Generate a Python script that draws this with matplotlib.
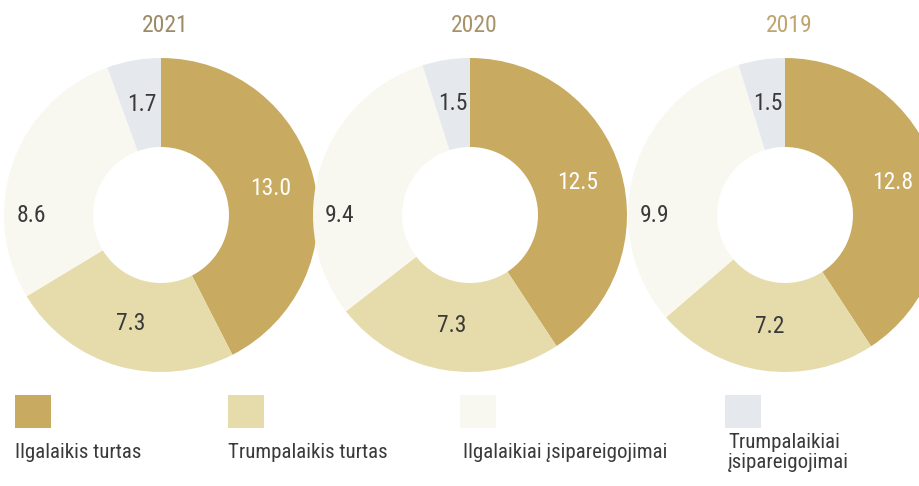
import matplotlib
matplotlib.use("Agg")
import matplotlib.pyplot as plt
from matplotlib import font_manager
import numpy as np

# look for a narrow face, the original uses a condensed font
names = {f.name for f in font_manager.fontManager.ttflist}
narrow = None
for cand in ['Liberation Sans Narrow', 'DejaVu Sans Condensed', 'Roboto Condensed',
             'Open Sans Condensed', 'Noto Sans Condensed']:
    if cand in names:
        narrow = cand
        break
if narrow:
    plt.rcParams['font.family'] = [narrow, 'DejaVu Sans']
    shrink = 1.0
else:
    plt.rcParams['font.family'] = ['DejaVu Sans']
    shrink = 0.88

years = ['2021', '2020', '2019']
categories = ['Ilgalaikis turtas', 'Trumpalaikis turtas',
              'Ilgalaikiai įsipareigojimai', 'Trumpalaikiai\nįsipareigojimai']
ilgalaikis_turtas = [13.0, 12.5, 12.8]
trumpalaikis_turtas = [7.3, 7.3, 7.2]
ilgalaikiai_isip = [8.6, 9.4, 9.9]
trumpalaikiai_isip = [1.7, 1.5, 1.5]

colors = ['#c8ab60', '#e6dcab', '#f8f7f0', '#e5e9ed']
label_colors = ['white', '#3a3a3a', '#3a3a3a', '#3a3a3a']
text_dark = '#3a3a3a'
title_colors = ['#9c8a68', '#a89268', '#c0a470']

W, H = 919, 486
fig = plt.figure(figsize=(W / 100, H / 100), dpi=100)
ax = fig.add_axes([0, 0, 1, 1])

centers_x = [161, 470, 785]
cy = H - 215
r_out = 157
r_in = 68
r_lab = (r_out + r_in) / 2

for i, year in enumerate(years):
    vals = [ilgalaikis_turtas[i], trumpalaikis_turtas[i], ilgalaikiai_isip[i], trumpalaikiai_isip[i]]
    cx = centers_x[i]
    ax.pie(vals, colors=colors, startangle=90, counterclock=False,
           center=(cx, cy), radius=r_out, frame=True,
           wedgeprops=dict(width=r_out - r_in, linewidth=0))
    total = sum(vals)
    cum = 0
    for j, v in enumerate(vals):
        mid = 90 - 360 * (cum + v / 2) / total
        cum += v
        rr = r_lab
        if j == 2:
            # this label sits level with the centre, on the left
            mid = 180
            rr = 130
        x = cx + rr * np.cos(np.radians(mid))
        y = cy + rr * np.sin(np.radians(mid))
        ax.text(x, y, f'{v:.1f}', ha='center', va='center', fontsize=17 * shrink,
                color=label_colors[j])
    ax.text(cx + 4, H - 26, year, ha='center', va='center', fontsize=17 * shrink,
            color=title_colors[i])

# legend
leg_x = [15, 228, 460, 725]
for k, name in enumerate(categories):
    ax.add_patch(plt.Rectangle((leg_x[k], H - 428), 36, 33, color=colors[k], linewidth=0))
    two_lines = '\n' in name
    ax.text(leg_x[k] + (3 if k >= 2 else 0), H - (468 if two_lines else 458), name,
            ha='left', va='baseline', fontsize=15 * shrink,
            color=text_dark, linespacing=1.1)

ax.set_xlim(0, W)
ax.set_ylim(0, H)
ax.set_aspect('auto')
ax.axis('off')

fig.savefig('out.png', dpi=100, facecolor='white')
